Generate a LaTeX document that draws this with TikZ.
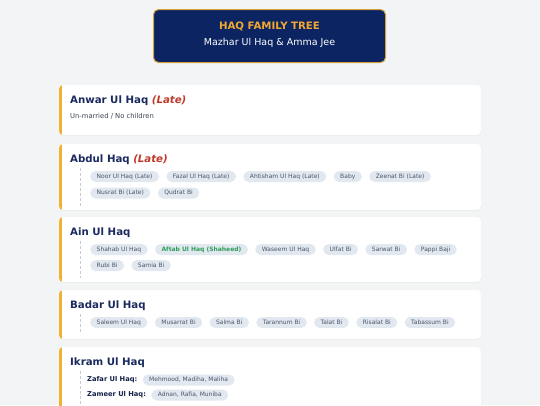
\documentclass[tikz,border=0pt]{standalone}
\usepackage{fontspec}
\setmainfont{DejaVu Sans}
\usetikzlibrary{positioning}
\definecolor{bgc}{HTML}{F3F4F5}
\definecolor{navy}{HTML}{0C2461}
\definecolor{goldb}{HTML}{D4A23A}
\definecolor{goldt}{HTML}{F0A830}
\definecolor{bar}{HTML}{F0B232}
\definecolor{ttl}{HTML}{1A2A5E}
\definecolor{late}{HTML}{C0392B}
\definecolor{chipbg}{HTML}{E2E8F0}
\definecolor{chiptx}{HTML}{4A5568}
\definecolor{greentx}{HTML}{2F9E5A}
\definecolor{guidec}{HTML}{C8CCD2}
\tikzset{
  chip/.style={fill=chipbg, rounded corners=5.5pt, inner xsep=6.5pt, inner ysep=0pt,
    minimum height=11pt, text=chiptx, font=\fontsize{6}{7}\selectfont},
  cardtitle/.style={anchor=base west, inner sep=0pt, text=ttl, font=\fontsize{10.2}{12}\selectfont\bfseries},
  lbl/.style={anchor=west, inner sep=0pt, text=ttl!80!black, font=\fontsize{6.7}{8}\selectfont\bfseries},
  guide/.style={draw=guidec, densely dashed, line width=0.6pt},
  gap/.style={right=7pt of #1}
}
\newcommand{\card}[2]{%
  \fill[black!7, rounded corners=4pt] (59,#1+1.2) rectangle (481,#2+1.2);
  \begin{scope}
    \clip[rounded corners=4pt] (59,#1) rectangle (481,#2);
    \fill[white] (59,#1) rectangle (481,#2);
    \fill[bar] (59,#1) rectangle (61.5,#2);
  \end{scope}}
\begin{document}
\begin{tikzpicture}[x=1pt,y=-1pt]
\useasboundingbox (0,0) rectangle (540,405);
\clip (0,0) rectangle (540,405);
\fill[bgc] (0,0) rectangle (540,405);
% header
\node[draw=goldb, line width=1pt, fill=navy, rounded corners=5pt, minimum width=232pt, minimum height=53pt] (head) at (269.5,36) {};
\node[text=goldt, font=\fontsize{10.2}{12}\selectfont\bfseries] (htitle) at (269.5,26) {HAQ FAMILY TREE};
\node[text=white, font=\fontsize{9.5}{11}\selectfont] (hsub) at (269.5,42.5) {Mazhar Ul Haq \& Amma Jee};
% card 1
\card{85}{135}
\node[cardtitle] (t1) at (70,103) {Anwar Ul Haq \textcolor{late}{\itshape (Late)}};
\node[anchor=west, inner sep=0pt, text=chiptx!80!black, font=\fontsize{6.8}{8}\selectfont] (n1) at (70,116.5) {Un-married / No children};
% card 2
\card{144}{210}
\node[cardtitle] (t2) at (70,162) {Abdul Haq \textcolor{late}{\itshape (Late)}};
\coordinate (d2a) at (80,168); \coordinate (d2b) at (80,206);
\draw[guide] (d2a) -- (d2b);
\node[chip, anchor=west] (c2a) at (90,176.5) {Noor Ul Haq (Late)};
\node[chip, gap=c2a] (c2b) {Fazal Ul Haq (Late)};
\node[chip, gap=c2b] (c2c) {Ahtisham Ul Haq (Late)};
\node[chip, gap=c2c] (c2d) {Baby};
\node[chip, gap=c2d] (c2e) {Zeenat Bi (Late)};
\node[chip, anchor=west] (c2f) at (90,193) {Nusrat Bi (Late)};
\node[chip, gap=c2f] (c2g) {Qudrat Bi};
% card 3
\card{217}{282}
\node[cardtitle] (t3) at (70,235) {Ain Ul Haq};
\coordinate (d3a) at (80,241); \coordinate (d3b) at (80,278);
\draw[guide] (d3a) -- (d3b);
\node[chip, anchor=west] (c3a) at (90,249.5) {Shahab Ul Haq};
\node[chip, gap=c3a, text=greentx, font=\fontsize{6}{7}\selectfont\bfseries] (c3b) {Aftab Ul Haq (Shaheed)};
\node[chip, gap=c3b] (c3c) {Waseem Ul Haq};
\node[chip, gap=c3c] (c3d) {Ulfat Bi};
\node[chip, gap=c3d] (c3e) {Sarwat Bi};
\node[chip, gap=c3e] (c3f) {Pappi Baji};
\node[chip, anchor=west] (c3g) at (90,265.5) {Rubi Bi};
\node[chip, gap=c3g] (c3h) {Samia Bi};
% card 4
\card{290}{339}
\node[cardtitle] (t4) at (70,308) {Badar Ul Haq};
\coordinate (d4a) at (80,314); \coordinate (d4b) at (80,333);
\draw[guide] (d4a) -- (d4b);
\node[chip, anchor=west] (c4a) at (90,322.5) {Saleem Ul Haq};
\node[chip, gap=c4a] (c4b) {Musarrat Bi};
\node[chip, gap=c4b] (c4c) {Salma Bi};
\node[chip, gap=c4c] (c4d) {Tarannum Bi};
\node[chip, gap=c4d] (c4e) {Talat Bi};
\node[chip, gap=c4e] (c4f) {Risalat Bi};
\node[chip, gap=c4f] (c4g) {Tabassum Bi};
% card 5
\card{347}{430}
\node[cardtitle] (t5) at (70,365) {Ikram Ul Haq};
\coordinate (d5a) at (80,371); \coordinate (d5b) at (80,410);
\draw[guide] (d5a) -- (d5b);
\node[lbl] (l5a) at (87,380) {Zafar Ul Haq:};
\node[chip, right=5pt of l5a] (c5a) {Mehmood, Madiha, Maliha};
\node[lbl] (l5b) at (87,395) {Zameer Ul Haq:};
\node[chip, right=5pt of l5b] (c5b) {Adnan, Rafia, Muniba};
\end{tikzpicture}
\end{document}
